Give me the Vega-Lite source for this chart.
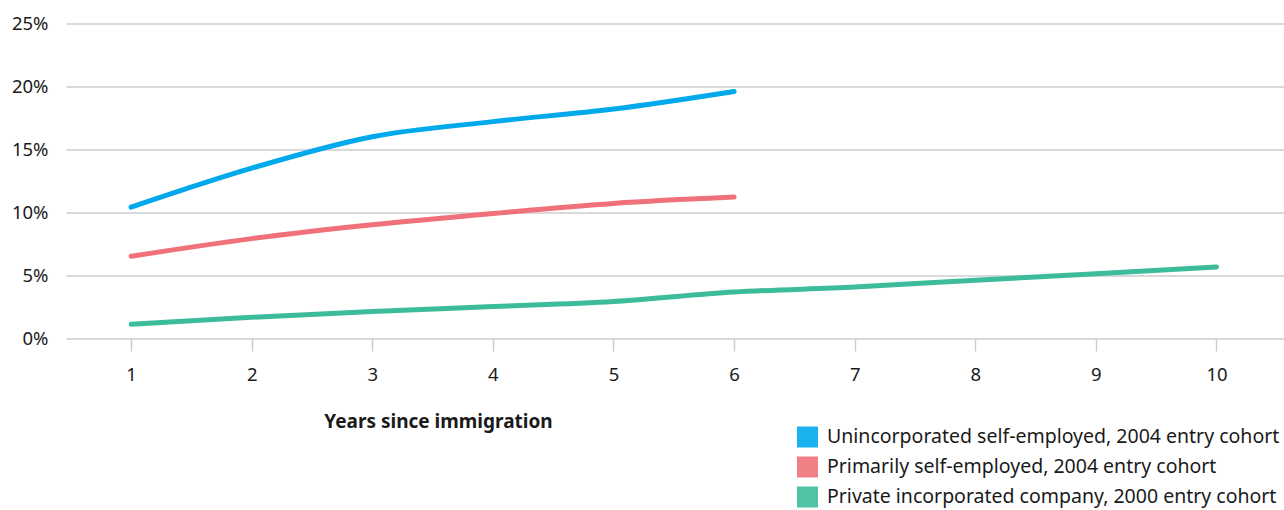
{
  "$schema": "https://vega.github.io/schema/vega-lite/v6.json",
  "autosize": {"type": "none"},
  "padding": {"left": 66, "top": 23.5, "right": 0, "bottom": 172},
  "width": 1218,
  "height": 314.5,
  "background": "white",
  "config": {
    "font": "Noto Sans",
    "view": {"stroke": null}
  },
  "data": {
    "values": [
      {"year": 1, "pct": 10.4, "series": "Unincorporated self-employed, 2004 entry cohort"},
      {"year": 2, "pct": 13.5, "series": "Unincorporated self-employed, 2004 entry cohort"},
      {"year": 3, "pct": 16.0, "series": "Unincorporated self-employed, 2004 entry cohort"},
      {"year": 4, "pct": 17.2, "series": "Unincorporated self-employed, 2004 entry cohort"},
      {"year": 5, "pct": 18.2, "series": "Unincorporated self-employed, 2004 entry cohort"},
      {"year": 6, "pct": 19.6, "series": "Unincorporated self-employed, 2004 entry cohort"},
      {"year": 1, "pct": 6.5, "series": "Primarily self-employed, 2004 entry cohort"},
      {"year": 2, "pct": 7.9, "series": "Primarily self-employed, 2004 entry cohort"},
      {"year": 3, "pct": 9.0, "series": "Primarily self-employed, 2004 entry cohort"},
      {"year": 4, "pct": 9.9, "series": "Primarily self-employed, 2004 entry cohort"},
      {"year": 5, "pct": 10.7, "series": "Primarily self-employed, 2004 entry cohort"},
      {"year": 6, "pct": 11.2, "series": "Primarily self-employed, 2004 entry cohort"},
      {"year": 1, "pct": 1.1, "series": "Private incorporated company, 2000 entry cohort"},
      {"year": 2, "pct": 1.65, "series": "Private incorporated company, 2000 entry cohort"},
      {"year": 3, "pct": 2.1, "series": "Private incorporated company, 2000 entry cohort"},
      {"year": 4, "pct": 2.5, "series": "Private incorporated company, 2000 entry cohort"},
      {"year": 5, "pct": 2.9, "series": "Private incorporated company, 2000 entry cohort"},
      {"year": 6, "pct": 3.65, "series": "Private incorporated company, 2000 entry cohort"},
      {"year": 7, "pct": 4.05, "series": "Private incorporated company, 2000 entry cohort"},
      {"year": 8, "pct": 4.6, "series": "Private incorporated company, 2000 entry cohort"},
      {"year": 9, "pct": 5.1, "series": "Private incorporated company, 2000 entry cohort"},
      {"year": 10, "pct": 5.65, "series": "Private incorporated company, 2000 entry cohort"}
    ]
  },
  "mark": {"type": "line", "strokeWidth": 5, "strokeCap": "round", "interpolate": "monotone"},
  "encoding": {
    "x": {
      "field": "year", "type": "quantitative",
      "scale": {"domain": [0.46, 10.56], "nice": false, "zero": false},
      "axis": {
        "values": [1, 2, 3, 4, 5, 6, 7, 8, 9, 10],
        "title": "Years since immigration",
        "titleFontWeight": "bold", "titleFontSize": 19, "titleColor": "#1a1a1a",
        "titleX": 372, "titleY": 83, "titleBaseline": "middle", "titleAnchor": "middle", "titleAlign": "center",
        "domain": false, "grid": false,
        "ticks": true, "tickSize": 13, "tickColor": "#cccccc", "tickWidth": 1.5,
        "labelFontSize": 18.5, "labelColor": "#1a1a1a", "labelPadding": 14, "labelFlush": false
      }
    },
    "y": {
      "field": "pct", "type": "quantitative",
      "scale": {"domain": [0, 25], "nice": false},
      "axis": {
        "values": [0, 5, 10, 15, 20, 25],
        "labelExpr": "datum.value + '%'",
        "title": null, "domain": false, "ticks": false,
        "grid": true, "gridColor": "#cccccc", "gridWidth": 1.5,
        "labelFontSize": 18.5, "labelColor": "#1a1a1a", "labelPadding": 18
      }
    },
    "color": {
      "field": "series", "type": "nominal",
      "sort": ["Unincorporated self-employed, 2004 entry cohort", "Primarily self-employed, 2004 entry cohort", "Private incorporated company, 2000 entry cohort"],
      "scale": {
        "domain": ["Unincorporated self-employed, 2004 entry cohort", "Primarily self-employed, 2004 entry cohort", "Private incorporated company, 2000 entry cohort"],
        "range": ["#00a9ec", "#f07179", "#3cbc9b"]
      },
      "legend": {
        "orient": "none", "legendX": 731, "legendY": 403,
        "title": null,
        "symbolType": "square", "symbolSize": 441, "symbolStrokeWidth": 0,
        "labelFontSize": 19.5, "labelColor": "#1a1a1a", "labelOffset": 9, "labelLimit": 0,
        "rowPadding": 9,
        "encode": {"symbols": {"update": {"fill": {"scale": "color", "field": "value"}, "fillOpacity": {"value": 0.9}, "strokeWidth": {"value": 0}}}}
      }
    }
  }
}
